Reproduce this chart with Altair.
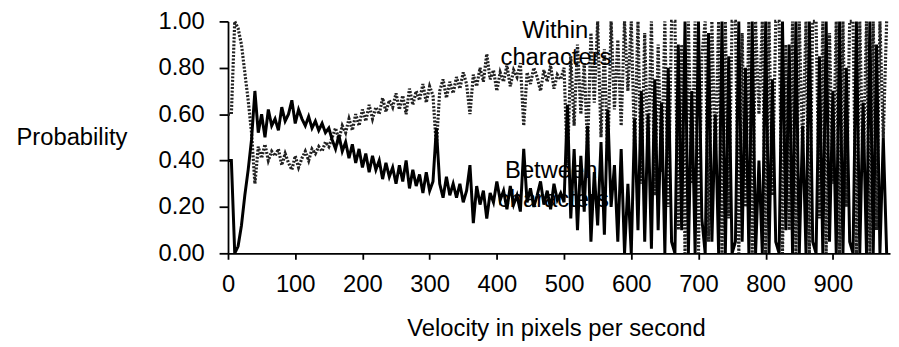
import altair as alt
import pandas as pd

# velocity bins (pixels per second), step 5
velocity = list(range(0, 985, 5))

# Probability of "Within characters" (by segment)
within_a = [0.60, 0.60, 1.00, 0.97, 0.90, 0.78, 0.66, 0.52, 0.30]
within_b = [0.46, 0.41, 0.47, 0.40, 0.44, 0.42, 0.45, 0.38, 0.43, 0.39,
            0.36, 0.42, 0.37, 0.41, 0.44, 0.40, 0.45, 0.43, 0.46, 0.44,
            0.48, 0.46]
within_c = [0.50, 0.54, 0.49, 0.55, 0.52, 0.58, 0.53, 0.60, 0.55, 0.62,
            0.57, 0.64, 0.58, 0.63, 0.60, 0.67, 0.61, 0.66, 0.63, 0.69,
            0.62, 0.68, 0.60, 0.71, 0.64, 0.70, 0.66, 0.73, 0.65, 0.72,
            0.68, 0.46, 0.70, 0.75, 0.67, 0.74, 0.69]
within_d = [0.76, 0.71, 0.78, 0.73, 0.60, 0.77, 0.72, 0.80, 0.74, 0.86,
            0.75, 0.79, 0.70, 0.78, 0.74, 0.81, 0.72, 0.79, 0.76, 0.82,
            0.55, 0.78, 0.73, 0.80, 0.76, 0.70, 0.79, 0.74, 0.81, 0.71,
            0.77, 0.75]
within_e = [0.80, 0.38, 0.85, 0.55, 0.90, 0.60, 0.82, 0.45, 0.95, 0.65,
            1.00, 0.50, 0.88, 0.40, 1.00, 0.62, 0.92, 0.55, 1.00, 0.70,
            1.00, 0.45, 1.00, 0.30, 0.95, 0.40, 1.00, 0.25, 0.90, 0.35]
within_f = [1.00, 0.20, 1.00, 1.00, 0.10, 0.90, 0.00, 1.00, 0.30, 1.00,
            0.00, 0.85, 1.00, 0.05, 1.00, 0.40, 1.00, 0.00, 1.00, 0.15,
            1.00, 1.00, 0.00, 0.95, 0.20, 1.00, 0.00, 1.00, 0.60, 1.00,
            0.00, 1.00, 0.25, 1.00, 1.00, 0.00, 0.90, 0.10, 1.00, 0.00,
            1.00, 0.45, 1.00, 0.00, 1.00, 1.00, 0.15, 1.00, 0.00, 0.95,
            0.30, 1.00, 0.00, 1.00, 0.20, 1.00, 1.00, 0.00, 1.00, 0.35,
            1.00, 0.00, 1.00, 0.10, 1.00, 0.50, 1.00]

# Probability of "Between characters"
between_a = [0.40, 0.40, 0.00, 0.03, 0.12, 0.25, 0.36, 0.49, 0.70]
between_b = [0.52, 0.60, 0.50, 0.62, 0.55, 0.58, 0.53, 0.63, 0.57, 0.60,
             0.66, 0.56, 0.62, 0.58, 0.55, 0.59, 0.54, 0.57, 0.53, 0.56,
             0.52, 0.54]
between_c = [0.49, 0.45, 0.51, 0.44, 0.48, 0.41, 0.47, 0.39, 0.45, 0.37,
             0.43, 0.35, 0.42, 0.36, 0.40, 0.32, 0.39, 0.33, 0.37, 0.30,
             0.38, 0.31, 0.40, 0.28, 0.36, 0.29, 0.34, 0.26, 0.35, 0.27,
             0.31, 0.54, 0.30, 0.24, 0.33, 0.25, 0.30]
between_d = [0.24, 0.30, 0.22, 0.27, 0.38, 0.13, 0.29, 0.21, 0.27, 0.15,
             0.26, 0.22, 0.31, 0.23, 0.27, 0.19, 0.29, 0.21, 0.25, 0.18,
             0.45, 0.22, 0.28, 0.20, 0.25, 0.31, 0.21, 0.27, 0.19, 0.30,
             0.23, 0.26]
between_e = [0.22, 0.64, 0.15, 0.45, 0.10, 0.42, 0.18, 0.55, 0.05, 0.35,
             0.12, 0.48, 0.08, 0.62, 0.20, 0.38, 0.05, 0.45, 0.00, 0.30,
             0.00, 0.58, 0.10, 0.70, 0.05, 0.60, 0.02, 0.75, 0.10, 0.65]
between_f = [0.00, 0.80, 0.05, 0.00, 0.90, 0.10, 1.00, 0.00, 0.70, 0.00,
             1.00, 0.15, 0.00, 0.95, 0.05, 0.60, 0.00, 1.00, 0.00, 0.85,
             0.00, 0.05, 1.00, 0.05, 0.80, 0.00, 1.00, 0.00, 0.40, 0.00,
             1.00, 0.00, 0.75, 0.05, 0.00, 1.00, 0.10, 0.90, 0.00, 1.00,
             0.00, 0.55, 0.00, 1.00, 0.05, 0.00, 0.85, 0.00, 1.00, 0.05,
             0.70, 0.00, 1.00, 0.00, 0.80, 0.05, 0.00, 1.00, 0.00, 0.65,
             0.00, 1.00, 0.00, 0.90, 0.00, 0.50, 0.00]

within = within_a + within_b + within_c + within_d + within_e + within_f
between = between_a + between_b + between_c + between_d + between_e + between_f

# annotation labels
label_text = ["Within", "characters", "Between", "characters"]
label_v = [487, 488, 481, 484]
label_p = [0.927, 0.81, 0.325, 0.20]

df_w = pd.DataFrame({"v": velocity, "p": within})
df_b = pd.DataFrame({"v": velocity, "p": between})
df_t = pd.DataFrame({"v": label_v, "p": label_p, "t": label_text})

FONT = "Liberation Sans"

x_enc = alt.X(
    "v:Q",
    scale=alt.Scale(domain=[0, 985], nice=False, zero=False),
    axis=alt.Axis(
        title="Velocity in pixels per second",
        values=list(range(0, 1000, 50)),
        labelExpr="datum.value % 100 == 0 ? datum.label : ''",
        format="d",
        tickSize=6,
        labelPadding=14,
        titleX=331,
        titleY=83,
        titleAlign="center",
        titleBaseline="alphabetic",
        labelFlush=False,
        labelOverlap=False,
    ),
)
y_enc = alt.Y(
    "p:Q",
    scale=alt.Scale(domain=[0, 1], nice=False),
    axis=alt.Axis(
        title="Probability",
        values=[0, 0.2, 0.4, 0.6, 0.8, 1.0],
        format=".2f",
        tickSize=9,
        labelPadding=15,
        titleAngle=0,
        titleX=-158,
        titleY=124,
        titleAlign="center",
        titleBaseline="alphabetic",
    ),
)

text = alt.Chart(df_t).mark_text(
    font=FONT, fontSize=24, color="black", align="center", baseline="alphabetic"
).encode(x=alt.X("v:Q"), y=alt.Y("p:Q"), text="t:N")

within_line = alt.Chart(df_w).mark_line(
    color="#222222", strokeWidth=3.2, strokeDash=[2, 1.6]
).encode(x=x_enc, y=y_enc)

between_line = alt.Chart(df_b).mark_line(
    color="black", strokeWidth=3.0
).encode(x=alt.X("v:Q"), y=alt.Y("p:Q"))

chart = (
    alt.layer(within_line, text, between_line)
    .properties(
        width=668,
        height=234,
        autosize=alt.AutoSizeParams(type="none"),
        padding={"left": 222, "top": 12, "right": 1, "bottom": 92},
    )
    .configure_view(stroke=None)
    .configure_axis(
        grid=False,
        labelFont=FONT,
        labelFontSize=24,
        labelColor="black",
        titleFont=FONT,
        titleFontSize=24,
        titleFontWeight="normal",
        titleColor="black",
        domainColor="black",
        domainWidth=1.8,
        tickColor="black",
        tickWidth=1.8,
    )
)

chart.save("out.html", embed_options={"renderer": "svg", "actions": False})
